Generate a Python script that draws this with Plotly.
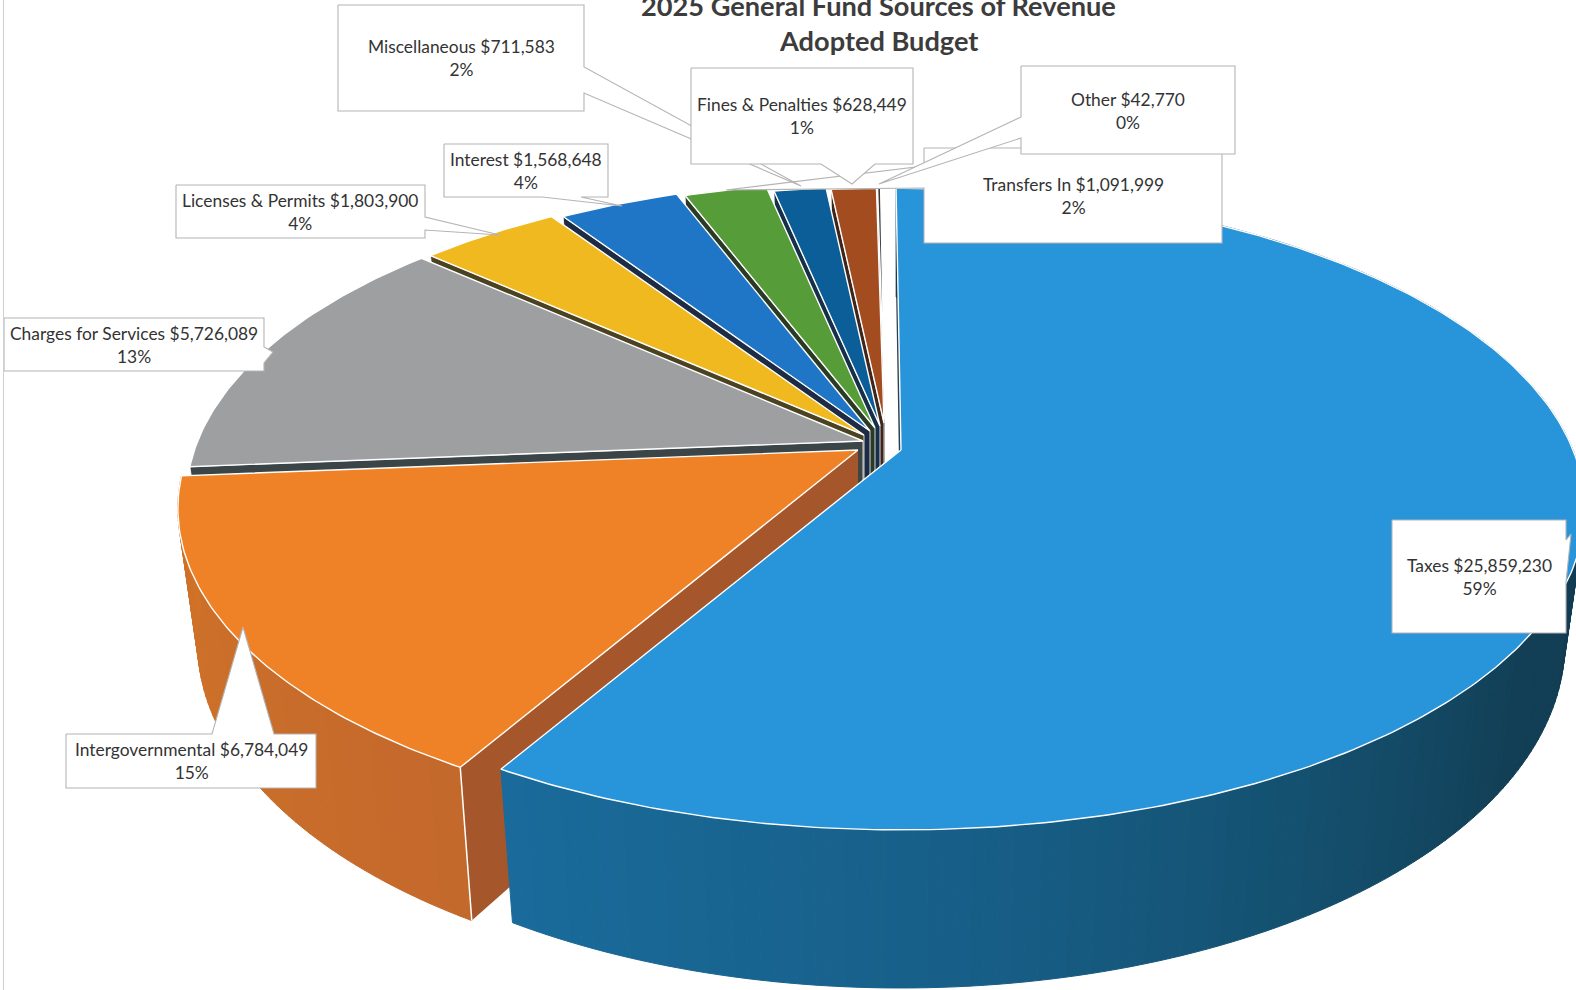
import math
import plotly.graph_objects as go

# Revenue sources, in the order they run clockwise from twelve o'clock
categories = ["Taxes", "Intergovernmental", "Charges for Services", "Licenses & Permits",
              "Interest", "Transfers In", "Miscellaneous", "Fines & Penalties", "Other"]
amounts = [25859230, 6784049, 5726089, 1803900, 1568648, 1091999, 711583, 628449, 42770]
percent_labels = [59, 15, 13, 4, 4, 2, 2, 1, 0]

title_lines = ["2025 General Fund Sources of Revenue", "Adopted Budget"]

top_colors = ["#2894da", "#ef8227", "#9d9fa1", "#f0b91f", "#1f76c7", "#569c38", "#0b5e98", "#a34c20", "#3a3a3a"]
side_colors = ["#2a3f52", "#a5562b", "#3b4547", "#4a4220", "#1d2c44", "#2a3a24", "#16304a", "#40261a", "#202020"]

# Where each wedge's tip sits after being pulled out, and its radius relative to the full pie
wedge_tips = [(901, 450), (858, 450), (863, 441), (864, 435), (870, 431),
              (875, 428), (880, 426), (884, 423), (885, 420)]
wedge_radius = [1.0, 0.995, 0.99, 0.97, 0.95, 0.93, 0.90, 0.88, 0.87]

RX, RY, PERSP, DEPTH, LEAN, ROTATION = 672.0, 310.0, 0.184, 129.0, 0.971, -0.5


def project(tip, r, deg, lower=False):
    """Perspective view of a point on the pie disc; deg runs clockwise from the top."""
    a = math.radians(deg + ROTATION)
    px, py = r * math.sin(a), r * math.cos(a)
    w = 1 + PERSP * py
    dx = RX * px / w
    dy = -RY * py / w
    if lower:
        return tip[0] + dx * LEAN, tip[1] + dy + DEPTH / w
    return tip[0] + dx, tip[1] + dy


def mix(c1, c2, t):
    rgb1 = [int(c1[i:i + 2], 16) for i in (1, 3, 5)]
    rgb2 = [int(c2[i:i + 2], 16) for i in (1, 3, 5)]
    return "#" + "".join(f"{round(p + (q - p) * t):02x}" for p, q in zip(rgb1, rgb2))


def taxes_wall_color(deg):
    stops = [(215, "#1a6d9e"), (175, "#175e87"), (150, "#14506f"), (125, "#123f56"), (80, "#123a50")]
    for (d1, c1), (d2, c2) in zip(stops, stops[1:]):
        if d2 <= deg <= d1:
            return mix(c1, c2, (d1 - deg) / (d1 - d2))
    return stops[-1][1]


def orange_wall_color(deg):
    return mix("#c4692c", "#d07328", (deg - 211) / 55)


fig = go.Figure()


def polygon(xs, ys, fill, line="rgba(0,0,0,0)", width=0.0):
    fig.add_trace(go.Scatter(x=list(xs), y=list(ys), mode="lines", fill="toself", fillcolor=fill,
                             line=dict(color=line, width=width), hoverinfo="skip", showlegend=False))


total = sum(amounts)
spans = []
start = 0.0
for amount in amounts:
    sweep = amount / total * 360.0
    spans.append((start, start + sweep))
    start += sweep

# Paint from the back of the pie to the front so nearer wedges cover farther ones
for i in reversed(range(len(amounts))):
    a0, a1 = spans[i]
    tip, r = wedge_tips[i], wedge_radius[i]

    # Cut face on the wedge's leading edge
    ax, ay = project(tip, r, a0)
    bx, by = project(tip, r, a0, lower=True)
    cx, cy = tip[0], tip[1] + DEPTH
    if i >= 2:
        polygon([tip[0], ax, bx, cx, tip[0]], [tip[1], ay, by, cy, tip[1]], side_colors[i], "#ffffff", 0.8)
    else:
        polygon([tip[0], ax, bx, cx, tip[0]], [tip[1], ay, by, cy, tip[1]], side_colors[i])

    # Rim of the nearer wedges, shaded in narrow strips
    if i < 2:
        steps = int(a1 - a0) + 1
        for k in range(steps):
            d0 = a0 + (a1 - a0) * k / steps
            d1 = a0 + (a1 - a0) * (k + 1) / steps
            p = [project(tip, r, d0), project(tip, r, d1),
                 project(tip, r, d1, True), project(tip, r, d0, True)]
            shade = taxes_wall_color((d0 + d1) / 2) if i == 0 else orange_wall_color((d0 + d1) / 2)
            polygon([q[0] for q in p] + [p[0][0]], [q[1] for q in p] + [p[0][1]], shade, shade, 1.0)
        # Light edge running down the front corner of the rim
        if i == 1:
            ex, ey = project(tip, r, a0)
            fx, fy = project(tip, r, a0, True)
            fig.add_trace(go.Scatter(x=[ex, fx], y=[ey, fy], mode="lines",
                                     line=dict(color="#ffffff", width=1.5),
                                     hoverinfo="skip", showlegend=False))

    # Upper face
    n = max(4, int((a1 - a0) * 1.5))
    arc = [project(tip, r, a0 + (a1 - a0) * k / n) for k in range(n + 1)]
    polygon([tip[0]] + [q[0] for q in arc] + [tip[0]], [tip[1]] + [q[1] for q in arc] + [tip[1]],
            top_colors[i], "#ffffff", 1.4)

# Data-label callouts: box (left, top, right, bottom), tail base corners, tail point
callouts = [
    ((1392, 520, 1566, 633), (1566, 582), (1566, 540), (1571, 534), 1479, 577),
    ((66, 734, 316, 788), (212, 734), (274, 734), (243, 627), 191, 761),
    ((4, 318, 264, 371), (264, 363), (264, 347), (273, 352), 134, 345),
    ((176, 185, 425, 238), (425, 217), (425, 230), (500, 235), 300, 212),
    ((444, 144, 608, 197), (542, 197), (581, 197), (622, 206), 526, 171),
    ((924, 148, 1222, 243), (924, 166), (924, 188), (726, 190), 1073, 196),
    ((338, 5, 584, 111), (584, 67), (584, 93), (801, 186), 461, 58),
    ((691, 68, 913, 164), (821, 164), (875, 164), (852, 184), 802, 116),
    ((1021, 66, 1235, 154), (1021, 117), (1021, 138), (879, 184), 1128, 111),
]


def box_outline(box, b0, b1, point):
    left, top, right, bottom = box
    corners = [(left, top), (right, top), (right, bottom), (left, bottom)]
    edges = [(corners[k], corners[(k + 1) % 4]) for k in range(4)]
    path = []
    for p, q in edges:
        path.append(p)
        on_edge = [b for b in (b0, b1)
                   if min(p[0], q[0]) <= b[0] <= max(p[0], q[0])
                   and min(p[1], q[1]) <= b[1] <= max(p[1], q[1])]
        if len(on_edge) == 2:
            on_edge.sort(key=lambda b: abs(b[0] - p[0]) + abs(b[1] - p[1]))
            path += [on_edge[0], point, on_edge[1]]
    path.append(path[0])
    return [c[0] for c in path], [c[1] for c in path]


annotations = []
for name, amount, pct, (box, b0, b1, point, tx, ty) in zip(categories, amounts, percent_labels, callouts):
    xs, ys = box_outline(box, b0, b1, point)
    polygon(xs, ys, "#ffffff", "#b4b4b4", 1.1)
    annotations.append(dict(x=tx, y=ty - 0.5, xref="x", yref="y", showarrow=False, align="center",
                            text=f"{name} ${amount:,}<br>{pct}%",
                            font=dict(family="Lato", size=17.4, color="#333333")))

# Two-line heading; the page edge trims the top of the first line
for text, y in zip(title_lines, (5, 40)):
    annotations.append(dict(x=878, y=y, xref="x", yref="y", showarrow=False, text=f"<b>{text}</b>",
                            font=dict(family="Lato", size=27.2, color="#3c3c3c")))

fig.update_layout(
    width=1576, height=990, margin=dict(l=0, r=0, t=0, b=0),
    paper_bgcolor="#ffffff", plot_bgcolor="#ffffff", showlegend=False, hovermode=False,
    xaxis=dict(range=[0, 1576], visible=False, fixedrange=True),
    yaxis=dict(range=[990, 0], visible=False, fixedrange=True),
    annotations=annotations,
    shapes=[dict(type="line", xref="x", yref="y", x0=3.5, x1=3.5, y0=0, y1=990,
                 line=dict(color="#cfcfcf", width=1), layer="above")],
)

fig.write_html("out.html", config=dict(displayModeBar=False))
